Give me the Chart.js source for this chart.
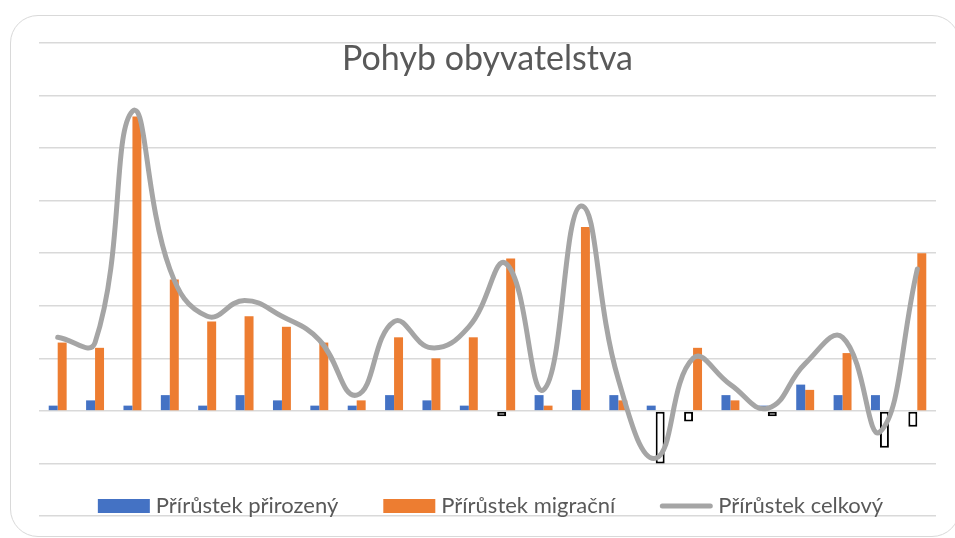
<!DOCTYPE html>
<html>
<head>
<meta charset="utf-8">
<script src="https://cdn.jsdelivr.net/npm/chart.js@4.4.0/dist/chart.umd.min.js"></script>
<style>
  html, body { margin: 0; padding: 0; background: #fff; overflow: hidden; }
  #wrap { position: relative; width: 955px; height: 538px; overflow: hidden; }
  #frame { position: absolute; left: 10px; top: 15px; width: 948px; height: 520px;
           border: 1.5px solid #D9D9D9; border-radius: 28px; }
  canvas { position: absolute; left: 0; top: 0; }
</style>
</head>
<body>
<div id="wrap">
  <div id="frame"></div>
  <canvas id="pohyb" width="955" height="538"></canvas>
</div>
<script>
const chartTitle = 'Pohyb obyvatelstva';
const categories = ['1','2','3','4','5','6','7','8','9','10','11','12',
                    '13','14','15','16','17','18','19','20','21','22','23','24'];
const seriesNames = ['Přírůstek přirozený', 'Přírůstek migrační', 'Přírůstek celkový'];
const natural   = [1, 2, 1, 3, 1, 3, 2, 1, 1, 3, 2, 1, -1, 3, 4, 3, 1, -2, 3, 1, 5, 3, 3, -3];
const migration = [13, 12, 56, 25, 17, 18, 16, 13, 2, 14, 10, 14, 29, 1, 35, 2, -10, 12, 2, -1, 4, 11, -7, 30];
const total     = [14, 13, 57, 27, 18, 21, 18, 13.5, 3, 17, 12, 16, 28, 4, 39, 6, -9, 10, 5, 0.5, 9, 14, -4, 27];
const yTicks = { min: -20, max: 70, step: 10 };

const blue = '#4472C4', orange = '#ED7D31', grey = '#A5A5A5', textGrey = '#595959';

// Excel style "invert if negative": white bar with black outline
const barFill = color => ctx => (ctx.raw < 0 ? '#FFFFFF' : color);
const barBorder = ctx => (ctx.raw < 0 ? 2 : 0);

// title and legend sit over the plot area like in the original sheet
const overlayPlugin = {
  id: 'overlay',
  afterDraw(chart) {
    const ctx = chart.ctx, area = chart.chartArea;
    const cx = (area.left + area.right) / 2;
    ctx.save();
    ctx.fillStyle = textGrey;
    ctx.textAlign = 'center';
    ctx.textBaseline = 'alphabetic';
    ctx.font = '34px Lato';
    ctx.fillText(chartTitle, cx, 70);

    ctx.font = '22px Lato';
    const boxW = 52, gap = 6, spacing = 45;
    const items = chart.data.datasets.map(ds => ({
      label: ds.label, color: ds.legendColor, line: ds.type === 'line',
      w: boxW + gap + ctx.measureText(ds.label).width
    }));
    let x = 3 + cx - (items.reduce((s, it) => s + it.w, 0) + spacing * (items.length - 1)) / 2;
    const y = 506;
    ctx.textAlign = 'left';
    ctx.textBaseline = 'middle';
    items.forEach(it => {
      if (it.line) {
        ctx.strokeStyle = it.color;
        ctx.lineWidth = 5;
        ctx.lineCap = 'round';
        ctx.beginPath();
        ctx.moveTo(x + 2, y);
        ctx.lineTo(x + boxW - 2, y);
        ctx.stroke();
      } else {
        ctx.fillStyle = it.color;
        ctx.fillRect(x, y - 7, boxW, 14);
      }
      ctx.fillStyle = textGrey;
      ctx.fillText(it.label, x + boxW + gap, y);
      x += it.w + spacing;
    });
    ctx.restore();
  }
};

new Chart('pohyb', {
  data: {
    labels: categories,
    datasets: [
      {
        type: 'bar', label: seriesNames[0], data: natural, order: 1,
        backgroundColor: barFill(blue), borderColor: '#000000', borderWidth: barBorder,
        borderSkipped: false, legendColor: blue, barPercentage: 1, categoryPercentage: 0.48
      },
      {
        type: 'bar', label: seriesNames[1], data: migration, order: 1,
        backgroundColor: barFill(orange), borderColor: '#000000', borderWidth: barBorder,
        borderSkipped: false, legendColor: orange, barPercentage: 1, categoryPercentage: 0.48
      },
      {
        type: 'line', label: seriesNames[2], data: total, order: 0,
        borderColor: grey, borderWidth: 5, pointRadius: 0, tension: 0.45,
        borderCapStyle: 'round', fill: false, legendColor: grey
      }
    ]
  },
  options: {
    responsive: false,
    animation: false,
    layout: { padding: { left: 39, right: 19, top: 43, bottom: 22 } },
    plugins: {
      legend: { display: false },
      title: { display: false },
      tooltip: { enabled: false }
    },
    scales: {
      x: { display: false },
      y: {
        min: yTicks.min, max: yTicks.max,
        ticks: { display: false, stepSize: yTicks.step },
        grid: { color: '#D9D9D9', lineWidth: 1.5, drawTicks: false },
        border: { display: false }
      }
    }
  },
  plugins: [overlayPlugin]
});
</script>
</body>
</html>
